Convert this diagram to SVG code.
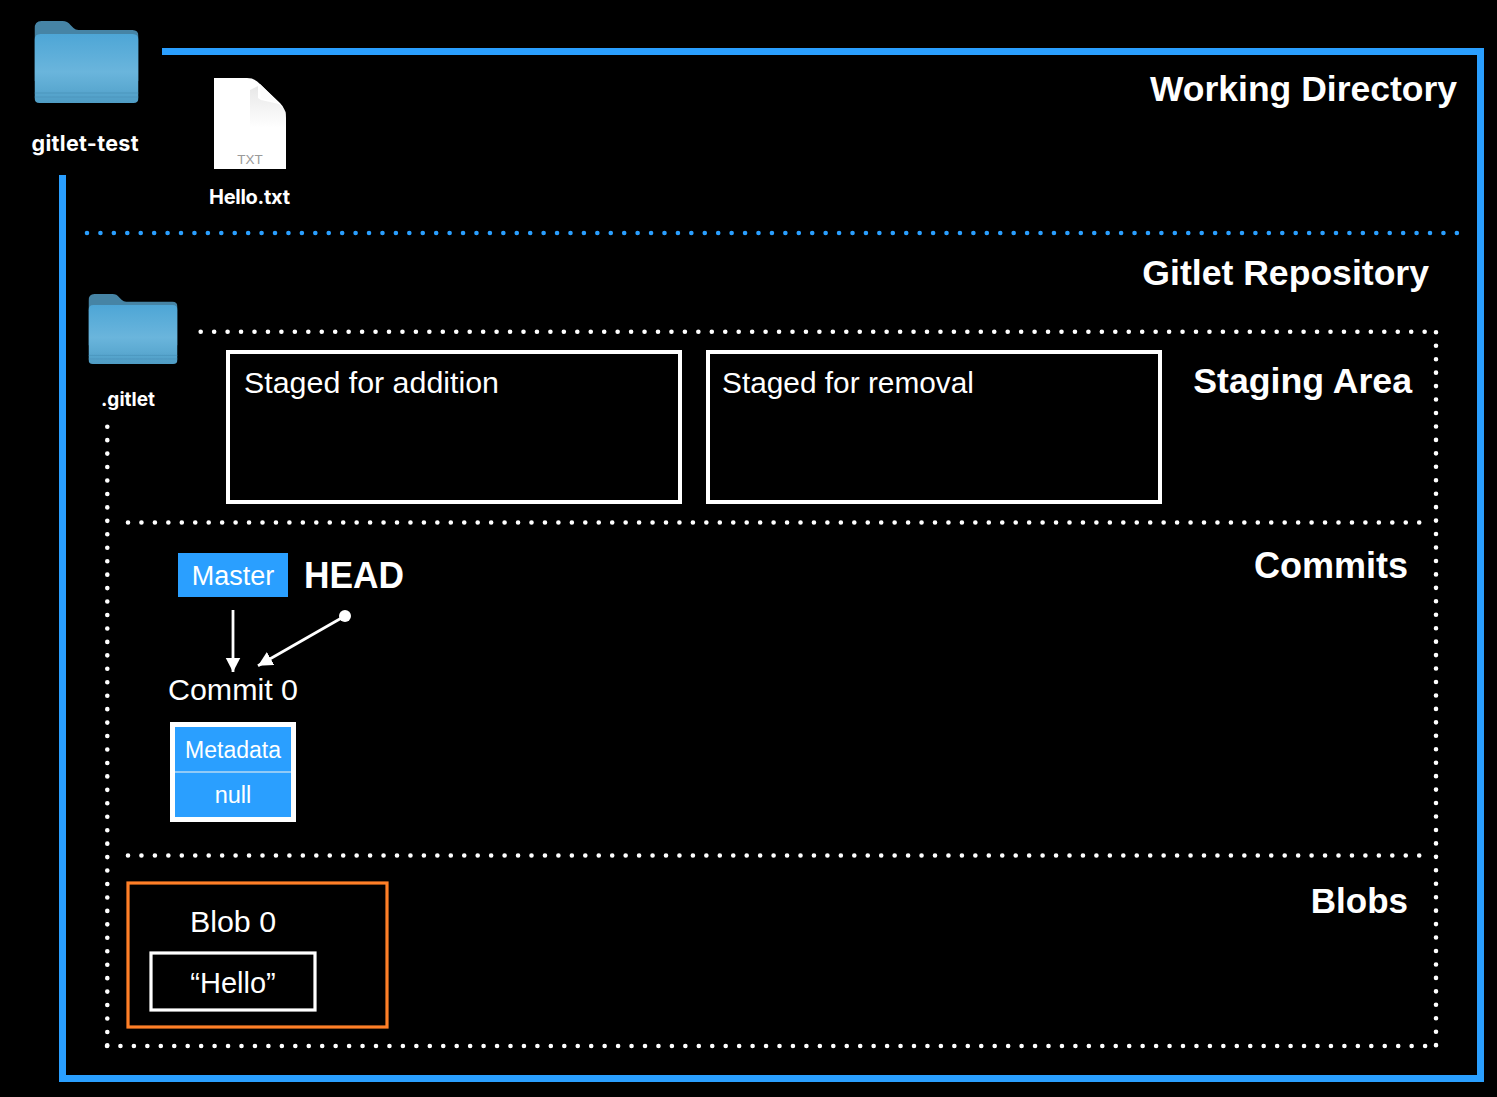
<svg xmlns="http://www.w3.org/2000/svg" width="1497" height="1097" viewBox="0 0 1497 1097">
<style>
text{font-family:"Liberation Sans",Arial,sans-serif;fill:#fff}
.h{font-size:36px;font-weight:700;text-anchor:end}
.t{font-size:30.4px}
.m{text-anchor:middle}
.f{font-family:Inter,"Liberation Sans",sans-serif;font-weight:700;font-size:20px;text-anchor:middle}
.frame{fill:none;stroke:#2a9fff;stroke-width:7}
.dw{fill:none;stroke:#fff;stroke-width:4.6;stroke-linecap:round;stroke-dasharray:0 13.45}
.db{fill:none;stroke:#2a9fff;stroke-width:4.6;stroke-linecap:round;stroke-dasharray:0 13.43}
.box{fill:none;stroke:#fff;stroke-width:4}
.cell{fill:#2a9fff}
.arrow{stroke:#fff;stroke-width:2.8;fill:none}
</style>
<defs>
<linearGradient id="fg" x1="0" y1="0" x2="0" y2="1">
<stop offset="0" stop-color="#4ea6d6"/><stop offset=".55" stop-color="#6ab5dc"/><stop offset=".8" stop-color="#5ba9d1"/><stop offset="1" stop-color="#4f9cc4"/>
</linearGradient>
<linearGradient id="sh" x1="0" y1="0" x2="0" y2="1">
<stop offset="0" stop-color="#d4d4d4"/><stop offset="1" stop-color="#fff"/>
</linearGradient>
<marker id="ah" markerUnits="userSpaceOnUse" markerWidth="16" markerHeight="16" refX="14.500" refY="7.500" orient="auto">
<path d="M0 0L14.500 7.500L0 15Z" fill="#fff"/>
</marker>
<symbol id="folder" viewBox="0 0 104 82" preserveAspectRatio="none">
<path d="M0 8Q0 0 7 0H28Q33 0 36 4L39 7Q41 9 44 9H98Q104 9 104 15V60H0Z" fill="#4684a5"/>
<path d="M0 19Q0 13 6 13H98Q104 13 104 19V77Q104 82 99 82H5Q0 82 0 77Z" fill="url(#fg)"/>
<path d="M0 72H104M0 76H104" stroke="#4a94bb" stroke-width="1" opacity=".8"/>
</symbol>
</defs>
<rect width="1497" height="1097" fill="#000"/>

<g id="connectors">
<path class="frame" d="M162 51.500H1480.500V1078.500H62.500V175"/>
<path class="db" d="M87 233H1458"/>
<path class="dw" d="M200.700 331.700H1425"/>
<path class="dw" d="M1436 332.300V1047"/>
<path class="dw" d="M107 1046H1437"/>
<path class="dw" d="M107.300 426.700V1047"/>
<path class="dw" d="M128 522.500H1425"/>
<path class="dw" d="M128 855.500H1425"/>
<path class="arrow" d="M233 610V672" marker-end="url(#ah)"/>
<path class="arrow" d="M345 616L258 665.700" marker-end="url(#ah)"/>
<circle cx="345" cy="616" r="6" fill="#fff"/>
</g>

<g id="working-directory"><text class="h" x="1457" y="101" style="font-size:35.500px">Working Directory</text></g>
<g id="gitlet-repository"><text class="h" x="1429" y="285" style="font-size:35.600px">Gitlet Repository</text></g>
<g id="staging-area"><text class="h" x="1412" y="393" style="font-size:35.700px">Staging Area</text></g>
<g id="commits"><text class="h" x="1408" y="578">Commits</text></g>
<g id="blobs"><text class="h" x="1408" y="912.500" style="font-size:35px">Blobs</text></g>

<g id="gitlet-test">
<use href="#folder" x="34.500" y="21" width="104" height="82"/>
<text class="f" x="85" y="151" style="font-size:21.500px" textLength="107" lengthAdjust="spacing">gitlet-test</text>
</g>
<g id="hello-txt">
<path d="M214 78H247Q255 78 260 84L280 103Q286 109 286 118V169H214Z" fill="#fff"/>
<path d="M258 86V98L261 100L279 104L286 112V128H250V90Z" fill="url(#sh)" opacity=".55"/>
<path d="M260 84L279 103Q270 101 261 98Z" fill="#fdfdfd"/>
<text x="250" y="163.500" font-size="13.500" class="m" style="fill:#9a9a9a">TXT</text>
<text class="f" x="249.500" y="203.500" textLength="81" lengthAdjust="spacing">Hello.txt</text>
</g>
<g id="gitlet-dir">
<use href="#folder" x="88.500" y="294" width="89" height="70"/>
<text class="f" x="128" y="406" style="font-size:19px" textLength="54" lengthAdjust="spacing">.gitlet</text>
</g>

<g id="staged-addition">
<rect class="box" x="228" y="352" width="452" height="150"/>
<text class="t" x="244" y="393" textLength="255" lengthAdjust="spacingAndGlyphs">Staged for addition</text>
</g>
<g id="staged-removal">
<rect class="box" x="708" y="352" width="452" height="150"/>
<text class="t" x="722" y="393" textLength="252" lengthAdjust="spacingAndGlyphs">Staged for removal</text>
</g>

<g id="master">
<rect class="cell" x="178" y="553" width="110" height="44"/>
<text x="233" y="585" font-size="27" class="m">Master</text>
</g>
<g id="head"><text x="304" y="588" font-size="36" font-weight="700" textLength="100" lengthAdjust="spacingAndGlyphs">HEAD</text></g>

<g id="commit-0">
<text class="t m" x="233" y="700">Commit 0</text>
<rect class="cell" x="172" y="724" width="122" height="96"/>
<path d="M172 772H294" stroke="#b5d8f5" stroke-width="1.500"/>
<rect class="box" x="172.500" y="724.500" width="121" height="95" style="stroke-width:5"/>
<text x="233" y="758" font-size="23" class="m">Metadata</text>
<text x="233" y="803" font-size="23.500" class="m">null</text>
</g>

<g id="blob-0">
<rect x="128" y="883" width="259" height="144" fill="none" stroke="#ff7f27" stroke-width="3.200"/>
<text class="t m" x="233" y="932">Blob 0</text>
<rect x="151" y="953" width="164" height="57" fill="none" stroke="#fff" stroke-width="3.200"/>
<text x="233" y="993" font-size="29" class="m">“Hello”</text>
</g>
</svg>
